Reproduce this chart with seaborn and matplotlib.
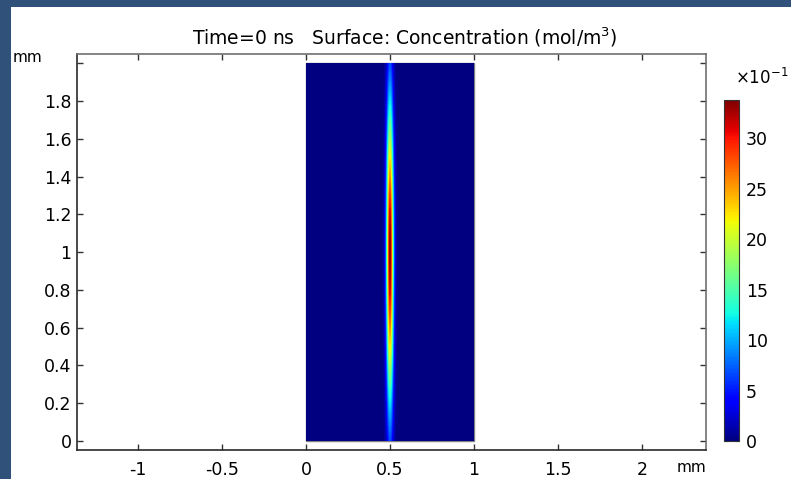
import numpy as np
import matplotlib
matplotlib.use("Agg")
import matplotlib.pyplot as plt
from matplotlib.patches import Rectangle
import seaborn as sns

sns.set_theme(style="ticks")
plt.rcParams["font.family"] = ["DejaVu Sans"]
plt.rcParams["axes.unicode_minus"] = False
plt.rcParams["text.color"] = "black"
plt.rcParams["xtick.color"] = "black"
plt.rcParams["ytick.color"] = "black"

# Domain of the rectangle (mm) and concentration pulse parameters
domain_x = [0.0, 1.0]
domain_y = [0.0, 2.0]
peak_conc = 33.8          # in units of 1e-1 mol/m^3
pulse_center = [0.5, 1.0]  # mm
pulse_sigma = [0.015, 0.557]  # mm

x_ticks = [-1, -0.5, 0, 0.5, 1, 1.5, 2]
x_ticklabels = ["-1", "-0.5", "0", "0.5", "1", "1.5", "2"]
y_ticks = [0, 0.2, 0.4, 0.6, 0.8, 1.0, 1.2, 1.4, 1.6, 1.8, 2.0]
y_ticklabels = ["0", "0.2", "0.4", "0.6", "0.8", "1", "1.2", "1.4", "1.6", "1.8", ""]
cbar_ticks = [0, 5, 10, 15, 20, 25, 30]

# Concentration field on the rectangle (initial Gaussian pulse)
nx, ny = 500, 300
xs = np.linspace(domain_x[0], domain_x[1], nx)
ys = np.linspace(domain_y[0], domain_y[1], ny)
X, Y = np.meshgrid(xs, ys)
field = peak_conc * np.exp(-(X - pulse_center[0]) ** 2 / (2 * pulse_sigma[0] ** 2)) \
    * np.exp(-(Y - pulse_center[1]) ** 2 / (2 * pulse_sigma[1] ** 2))

W, H = 791, 479
fig = plt.figure(figsize=(W / 100, H / 100), dpi=100)
fig.patch.set_facecolor("white")

# window frame strips
frame_col = "#30517a"
fig.add_artist(Rectangle((0, 0), 11 / W, 1, transform=fig.transFigure,
                         facecolor=frame_col, edgecolor="none", zorder=0))
fig.add_artist(Rectangle((0, 1 - 7 / H), 1, 7 / H, transform=fig.transFigure,
                         facecolor=frame_col, edgecolor="none", zorder=0))

ax = fig.add_axes([77 / W, 1 - 450 / H, (706 - 77) / W, (450 - 54) / H])
ax.set_facecolor("white")
ax.set_xlim(-1.363, 2.381)
ax.set_ylim(-0.048, 2.049)

cax = fig.add_axes([724 / W, 1 - 441 / H, 15 / W, 341 / H])

ax_in = ax.inset_axes([domain_x[0], domain_y[0], domain_x[1] - domain_x[0],
                       domain_y[1] - domain_y[0]], transform=ax.transData)
sns.heatmap(field[::-1], ax=ax_in, cmap="jet", vmin=0, vmax=peak_conc,
            cbar_ax=cax, xticklabels=False, yticklabels=False,
            cbar_kws={"ticks": cbar_ticks}, rasterized=True)
ax_in.set_xticks([])
ax_in.set_yticks([])
ax.add_patch(Rectangle((domain_x[0], domain_y[0]), domain_x[1] - domain_x[0],
                       domain_y[1] - domain_y[0], fill=False,
                       edgecolor="#808080", linewidth=1.0, zorder=5))

# main axes ticks and spines
ax.set_xticks(x_ticks)
ax.set_xticklabels(x_ticklabels)
ax.set_yticks(y_ticks)
ax.set_yticklabels(y_ticklabels)
ax.tick_params(axis="both", direction="in", length=4.5, width=1.0, color="#333333",
               top=True, right=True, labelsize=12.5, labelcolor="black")
ax.tick_params(axis="x", pad=8)
ax.tick_params(axis="y", pad=4)
for side in ["left", "bottom"]:
    ax.spines[side].set_color("#2a2a2a")
    ax.spines[side].set_linewidth(1.2)
for side in ["top", "right"]:
    ax.spines[side].set_color("#707070")
    ax.spines[side].set_linewidth(1.2)

# colorbar styling
cbar = ax_in.collections[0].colorbar
cbar.outline.set_linewidth(0.8)
cbar.outline.set_edgecolor("#333333")
cax.tick_params(direction="in", length=3, width=0.8, color="#222222",
                left=True, right=True, labelleft=False, labelright=True,
                labelsize=12.5, pad=5, labelcolor="black")
cax.set_yticklabels([str(t) for t in cbar_ticks])

# titles and unit labels
fig.text(405 / W, 1 - 37 / H,
         "Time=0 ns   Surface: Concentration (mol/m$^{\\mathregular{3}}$)",
         ha="center", va="center", fontsize=13.5)
fig.text(13 / W, 1 - 57 / H, "mm", ha="left", va="center", fontsize=11)
fig.text(706 / W, 1 - 468 / H, "mm", ha="right", va="center", fontsize=11)
fig.text(788 / W, 1 - 78 / H, "×10$^{\\mathregular{-1}}$", ha="right", va="center",
         fontsize=12)

fig.savefig("out.png", dpi=100, facecolor=fig.get_facecolor())
